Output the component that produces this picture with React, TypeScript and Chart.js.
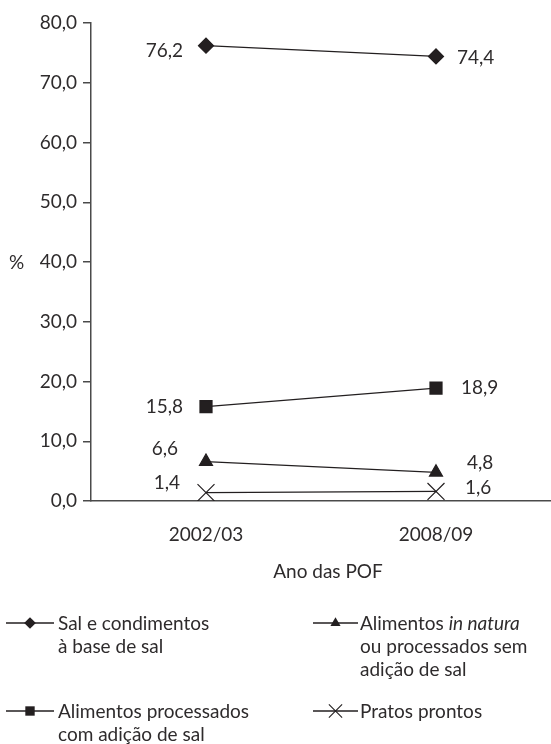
import React, { useEffect, useRef } from "react";
import { Chart, registerables } from "chart.js";

Chart.register(...registerables);

// ---- data ----
const categories = ["2002/03", "2008/09"];
const salCondimentos = [76.2, 74.4];
const processadosComSal = [15.8, 18.9];
const inNatura = [6.6, 4.8];
const pratosProntos = [1.4, 1.6];
const yMin = 0;
const yMax = 80;
const yStep = 10;
const yAxisUnit = "%";
const xAxisTitle = "Ano das POF";

const seriesNames = [
  "Sal e condimentos à base de sal",
  "Alimentos processados com adição de sal",
  "Alimentos in natura ou processados sem adição de sal",
  "Pratos prontos",
];

// legend text lines (segments: [text, italic])
const legendLines: [string, boolean][][][] = [
  [[["Sal e condimentos", false]], [["à base de sal", false]]],
  [[["Alimentos processados", false]], [["com adição de sal", false]]],
  [
    [["Alimentos ", false], ["in natura", true]],
    [["ou processados sem", false]],
    [["adição de sal", false]],
  ],
  [[["Pratos prontos", false]]],
];

// ---- styles ----
const FONT = "Lato";
const FS = 19;
const TEXT = "#2e2b2c";
const INK = "#231f20";
const AXIS = "#4a4a4a";
const pointStyles = ["rectRot", "rect", "triangle", "crossRot"];
const pointRadii = [7.5, 8.5, 7.5, 12];
// value-label offsets [dx, dy] per series, per category
const labelOffsets = [
  [[-23, 5], [21, 1]],
  [[-23, 0], [25, 0]],
  [[-28, -13], [31, -9]],
  [[-26, -10], [29, -4]],
];
// legend layout: [col, row]
const legendPlace = [[0, 0], [0, 1], [1, 0], [1, 1]];
const legendCols = [
  { x0: 6, x1: 54, tx: 58 },
  { x0: 313, x1: 358, tx: 360 },
];
const legendRows = [630, 718];
const legendPitch = 23;

const fmt = (v: number) => v.toFixed(1).replace(".", ",");

function drawMarker(ctx: CanvasRenderingContext2D, style: string, x: number, y: number, r: number) {
  ctx.beginPath();
  if (style === "rectRot") {
    ctx.moveTo(x, y - r);
    ctx.lineTo(x + r, y);
    ctx.lineTo(x, y + r);
    ctx.lineTo(x - r, y);
    ctx.closePath();
    ctx.fill();
  } else if (style === "rect") {
    const s = r * Math.SQRT1_2;
    ctx.rect(x - s, y - s, 2 * s, 2 * s);
    ctx.fill();
  } else if (style === "triangle") {
    for (let k = 0; k < 3; k++) {
      const a = (k * 2 * Math.PI) / 3;
      const px = x + Math.sin(a) * r;
      const py = y - Math.cos(a) * r;
      if (k === 0) ctx.moveTo(px, py);
      else ctx.lineTo(px, py);
    }
    ctx.closePath();
    ctx.fill();
  } else {
    const o = r * Math.SQRT1_2;
    ctx.moveTo(x - o, y - o);
    ctx.lineTo(x + o, y + o);
    ctx.moveTo(x + o, y - o);
    ctx.lineTo(x - o, y + o);
    ctx.stroke();
  }
}

const extrasPlugin = {
  id: "extras",
  afterDatasetsDraw(chart: any) {
    const ctx: CanvasRenderingContext2D = chart.ctx;
    ctx.save();
    ctx.font = `${FS}px ${FONT}`;
    ctx.fillStyle = TEXT;
    ctx.textBaseline = "middle";
    chart.data.datasets.forEach((ds: any, di: number) => {
      const meta = chart.getDatasetMeta(di);
      meta.data.forEach((pt: any, i: number) => {
        const off = labelOffsets[di][i];
        ctx.textAlign = i === 0 ? "right" : "left";
        ctx.fillText(fmt(ds.data[i]), pt.x + off[0], pt.y + off[1]);
      });
    });
    ctx.restore();
  },
  afterDraw(chart: any) {
    const ctx: CanvasRenderingContext2D = chart.ctx;
    const y = chart.scales.y;
    const x = chart.scales.x;
    ctx.save();
    ctx.fillStyle = TEXT;
    ctx.font = `${FS}px ${FONT}`;
    ctx.textBaseline = "middle";
    ctx.textAlign = "center";
    ctx.fillText(yAxisUnit, 16.5, y.getPixelForValue(40) + 1);
    ctx.fillText(xAxisTitle, (x.left + x.right) / 2 + 7, 572);

    // legend
    ctx.textAlign = "left";
    ctx.textBaseline = "alphabetic";
    legendLines.forEach((lines, di) => {
      const [c, r] = legendPlace[di];
      const col = legendCols[c];
      const base = legendRows[r];
      const ly = base - 7;
      ctx.strokeStyle = INK;
      ctx.lineWidth = 1.3;
      ctx.beginPath();
      ctx.moveTo(col.x0, ly);
      ctx.lineTo(col.x1, ly);
      ctx.stroke();
      ctx.fillStyle = INK;
      ctx.lineWidth = 1.1;
      const mx = (col.x0 + col.x1) / 2;
      drawMarker(ctx, pointStyles[di], mx, ly, pointRadii[di] * 0.78);
      ctx.fillStyle = TEXT;
      lines.forEach((segs, li) => {
        let tx = col.tx;
        segs.forEach(([t, it]) => {
          ctx.font = `${it ? "italic " : ""}${FS}px ${FONT}`;
          ctx.fillText(t, tx, base + li * legendPitch);
          tx += ctx.measureText(t).width;
        });
      });
    });
    ctx.restore();
  },
};

export default function App() {
  const ref = useRef<HTMLCanvasElement | null>(null);
  useEffect(() => {
    if (!ref.current) return;
    const series = [salCondimentos, processadosComSal, inNatura, pratosProntos];
    const chart = new Chart(ref.current, {
      type: "line",
      data: {
        labels: categories,
        datasets: series.map((d, i) => ({
          label: seriesNames[i],
          data: d,
          borderColor: INK,
          borderWidth: 1.3,
          backgroundColor: INK,
          pointBackgroundColor: INK,
          pointBorderColor: INK,
          pointBorderWidth: 1.2,
          pointStyle: pointStyles[i] as any,
          pointRadius: pointRadii[i],
          fill: false,
          tension: 0,
        })),
      },
      options: {
        responsive: false,
        animation: false,
        devicePixelRatio: 1,
        layout: { autoPadding: false, padding: { top: 23, left: 0, right: 0, bottom: 0 } },
        plugins: { legend: { display: false }, tooltip: { enabled: false }, title: { display: false } },
        scales: {
          x: {
            type: "category",
            offset: true,
            grid: { display: true, drawOnChartArea: false, drawTicks: false },
            border: { display: true, color: AXIS, width: 1.5 },
            ticks: { color: TEXT, font: { family: FONT, size: FS }, padding: 22, maxRotation: 0 },
            afterFit: (s: any) => {
              s.height = 744 - 501;
            },
          },
          y: {
            min: yMin,
            max: yMax,
            ticks: {
              stepSize: yStep,
              color: TEXT,
              font: { family: FONT, size: FS },
              padding: 6,
              callback: (v: any) => fmt(Number(v)),
            },
            grid: { display: true, drawOnChartArea: false, drawTicks: true, tickLength: 8, color: AXIS, lineWidth: 1.5 },
            border: { display: true, color: AXIS, width: 1.5 },
            afterFit: (s: any) => {
              s.width = 91;
            },
          },
        },
      },
      plugins: [extrasPlugin],
    });
    return () => chart.destroy();
  }, []);
  return (
    <div style={{ position: "absolute", left: 0, top: 0, width: 551, height: 744, background: "#fff" }}>
      <canvas ref={ref} width={551} height={744} style={{ display: "block", width: 551, height: 744 }} />
    </div>
  );
}
